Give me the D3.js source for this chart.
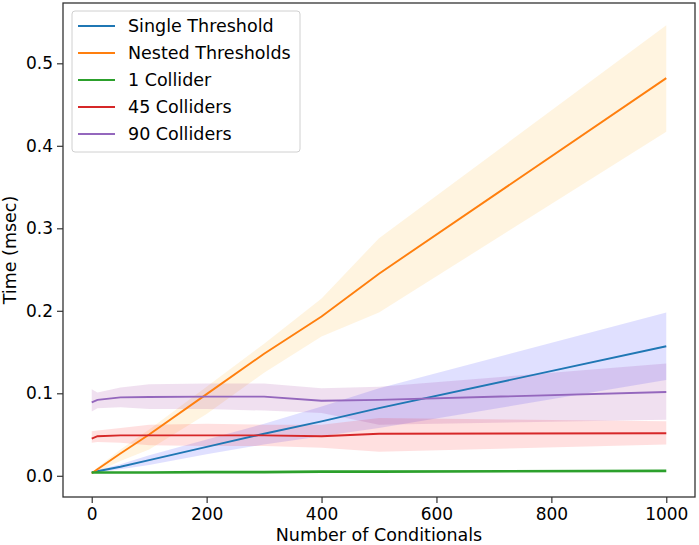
<!DOCTYPE html>
<html>
<head>
<meta charset="utf-8">
<script src="https://cdn.jsdelivr.net/npm/d3@7"></script>
<style>
  body { margin: 0; background: #fff; }
  text { font-family: "DejaVu Sans", sans-serif; }
</style>
</head>
<body>
<svg id="chart" width="699" height="545"></svg>
<script>
// ---- data ----
const conditionals = [0, 10, 50, 100, 200, 300, 400, 500, 1000];

const seriesNames = ["Single Threshold", "Nested Thresholds", "1 Collider", "45 Colliders", "90 Colliders"];
const lineColors = ["#1f77b4", "#ff7f0e", "#2ca02c", "#d62728", "#9467bd"];
const bandColors = ["#0000ff", "#ffa500", "#2ca02c", "#ff0000", "#800080"];

const singleMean  = [0.004, 0.0055, 0.011, 0.019, 0.035, 0.051, 0.066, 0.082, 0.157];
const singleLow   = [0.003, 0.004, 0.008, 0.013, 0.026, 0.038, 0.048, 0.058, 0.116];
const singleHigh  = [0.005, 0.007, 0.014, 0.025, 0.044, 0.063, 0.084, 0.106, 0.198];

const nestedMean  = [0.003, 0.008, 0.027, 0.050, 0.099, 0.148, 0.193, 0.245, 0.482];
const nestedLow   = [0.002, 0.005, 0.018, 0.032, 0.075, 0.125, 0.169, 0.198, 0.417];
const nestedHigh  = [0.004, 0.010, 0.032, 0.056, 0.108, 0.160, 0.215, 0.288, 0.546];

const oneMean     = [0.004, 0.004, 0.004, 0.004, 0.0045, 0.0045, 0.005, 0.005, 0.006];
const oneLow      = [0.0035, 0.0035, 0.0035, 0.0035, 0.004, 0.004, 0.0045, 0.0045, 0.0055];
const oneHigh     = [0.0045, 0.0045, 0.0045, 0.0045, 0.005, 0.005, 0.0055, 0.0055, 0.0065];

const c45Mean     = [0.045, 0.048, 0.049, 0.049, 0.049, 0.049, 0.048, 0.051, 0.0515];
const c45Low      = [0.040, 0.041, 0.040, 0.037, 0.036, 0.036, 0.034, 0.029, 0.038];
const c45High     = [0.054, 0.055, 0.058, 0.062, 0.063, 0.062, 0.062, 0.070, 0.066];

const c90Mean     = [0.089, 0.092, 0.095, 0.0955, 0.096, 0.096, 0.091, 0.092, 0.1015];
const c90Low      = [0.078, 0.082, 0.083, 0.081, 0.081, 0.079, 0.076, 0.062, 0.068];
const c90High     = [0.105, 0.101, 0.107, 0.111, 0.112, 0.112, 0.106, 0.108, 0.136];

const xTicks = [0, 200, 400, 600, 800, 1000];
const yTicks = [0.0, 0.1, 0.2, 0.3, 0.4, 0.5];

const series = [
  {mean: singleMean, low: singleLow, high: singleHigh},
  {mean: nestedMean, low: nestedLow, high: nestedHigh},
  {mean: oneMean, low: oneLow, high: oneHigh},
  {mean: c45Mean, low: c45Low, high: c45High},
  {mean: c90Mean, low: c90Low, high: c90High}
].map((s, i) => ({...s, name: seriesNames[i], color: lineColors[i], band: bandColors[i]}));

// ---- layout ----
const L = 63, R = 695, T = 3, B = 497;
const svg = d3.select("#chart");

const x = d3.scaleLinear().domain([-50, 1050]).range([L, R]);
const y = d3.scaleLinear().domain([-0.0257, 0.5731]).range([B, T]);

const area = d3.area()
  .x((d, i) => x(conditionals[i]))
  .y0(d => y(d[0]))
  .y1(d => y(d[1]));
const line = d3.line()
  .x((d, i) => x(conditionals[i]))
  .y(d => y(d));

const plot = svg.append("g");

// bands
series.forEach(s => {
  const pts = s.low.map((v, i) => [v, s.high[i]]);
  plot.append("path")
    .attr("d", area(pts))
    .attr("fill", s.band)
    .attr("fill-opacity", 0.12)
    .attr("stroke", "none");
});

// lines
series.forEach(s => {
  plot.append("path")
    .attr("d", line(s.mean))
    .attr("fill", "none")
    .attr("stroke", s.color)
    .attr("stroke-width", s.name === "1 Collider" ? 2.6 : 1.9);
});

// axes
const xAxis = d3.axisBottom(x).tickValues(xTicks).tickSize(6).tickPadding(5).tickFormat(d3.format("d"));
const yAxis = d3.axisLeft(y).tickValues(yTicks).tickSize(6).tickPadding(4).tickFormat(d3.format(".1f"));

const gx = svg.append("g").attr("transform", `translate(0,${B})`).call(xAxis);
const gy = svg.append("g").attr("transform", `translate(${L},0)`).call(yAxis);
[gx, gy].forEach(g => {
  g.select(".domain").remove();
  g.selectAll(".tick line").attr("stroke", "#333").attr("stroke-width", 1.2);
  g.selectAll(".tick text").attr("fill", "#000").style("font-size", "17px").style("font-family", "DejaVu Sans");
});

// frame
svg.append("rect")
  .attr("x", L).attr("y", T).attr("width", R - L).attr("height", B - T)
  .attr("fill", "none").attr("stroke", "#333").attr("stroke-width", 1.3);

// axis labels
svg.append("text")
  .attr("x", (L + R) / 2).attr("y", 541)
  .attr("text-anchor", "middle")
  .style("font-size", "17.5px")
  .text("Number of Conditionals");
svg.append("text")
  .attr("transform", `translate(16,${(T + B) / 2}) rotate(-90)`)
  .attr("text-anchor", "middle")
  .style("font-size", "17.5px")
  .text("Time (msec)");

// legend
const lg = svg.append("g");
lg.append("rect")
  .attr("x", 72).attr("y", 11).attr("width", 228).attr("height", 141)
  .attr("rx", 3).attr("fill", "#fff").attr("fill-opacity", 0.85)
  .attr("stroke", "#d0d0d0").attr("stroke-width", 1);
series.forEach((s, i) => {
  const cy = 26 + i * 27;
  lg.append("line").attr("x1", 78).attr("x2", 115).attr("y1", cy).attr("y2", cy)
    .attr("stroke", s.color).attr("stroke-width", 1.9);
  lg.append("text").attr("x", 128).attr("y", cy).attr("dy", "0.36em")
    .style("font-size", "17.5px").text(s.name);
});
</script>
</body>
</html>
